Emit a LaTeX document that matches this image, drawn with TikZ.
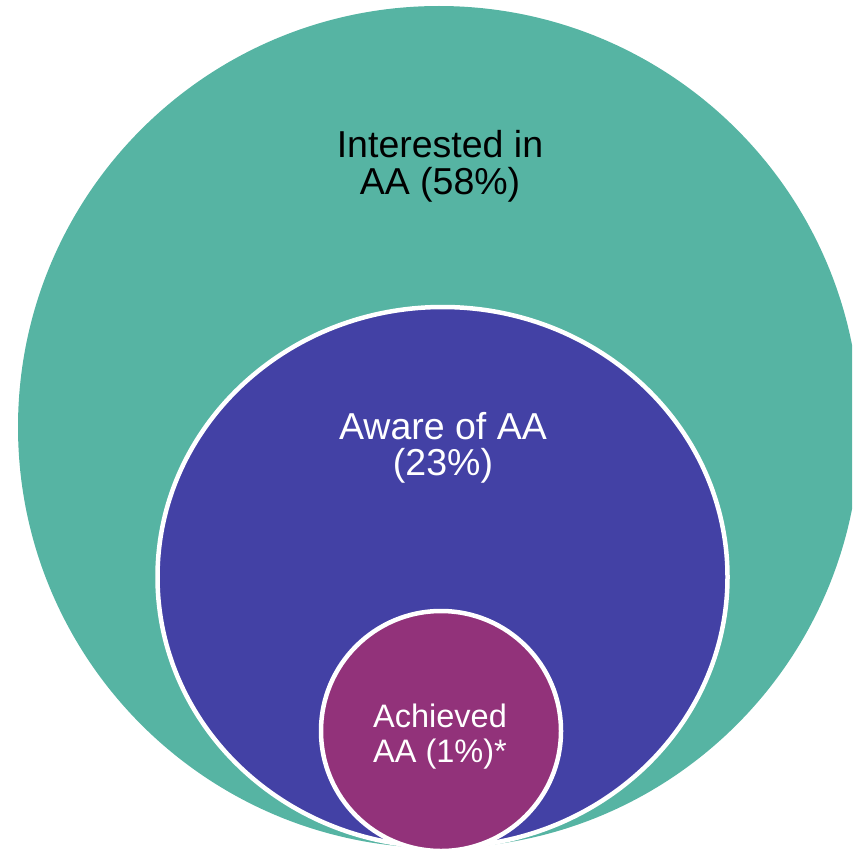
\documentclass[tikz,border=0pt]{standalone}
\usepackage{fontspec}
\setmainfont{Liberation Sans}
\definecolor{interestcol}{RGB}{86,180,163}
\definecolor{awarecol}{RGB}{67,65,165}
\definecolor{achievedcol}{RGB}{146,50,122}
\begin{document}
\begin{tikzpicture}[x = 1pt, y = -1pt]
                \clip (0, 0) rectangle (852, 853);
                \fill[interestcol] (439, 427) circle[radius = 421];
                \filldraw[fill = awarecol, draw = white, line width = 4.5pt] (442.5, 577) ellipse[x radius = 285, y radius = 270];
                \filldraw[fill = achievedcol, draw = white, line width = 4.5pt] (441, 731) circle[radius = 120];
                \node[align = center, font = \fontsize{37.5}{37}\selectfont] (interested) at (440, 166) {Interested in\\AA (58\%)};
                \node[align = center, white, font = \fontsize{37.5}{36.5}\selectfont] (aware) at (443, 448) {Aware of AA\\(23\%)};
                \node[align = center, white, font = \fontsize{32.5}{35}\selectfont] (achieved) at (440, 737) {Achieved\\AA (1\%)*};
            \end{tikzpicture}
\end{document}
